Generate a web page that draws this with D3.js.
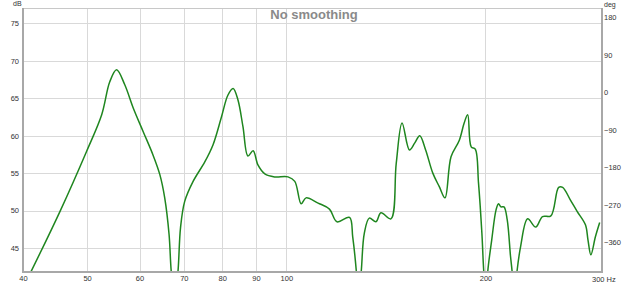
<!DOCTYPE html>
<html>
<head>
<meta charset="utf-8">
<script src="https://cdn.jsdelivr.net/npm/d3@7"></script>
<style>
  body { margin: 0; background: #fff; }
  svg { display: block; font-family: "Liberation Sans", Arial, sans-serif; }
  .tick text { fill: #333; font-size: 7.5px; }
</style>
</head>
<body>
<div id="chart"></div>
<script>
var W = 630, H = 285;
var plotL = 23, plotR = 602, plotT = 8, plotB = 272;

// frequency response (Hz, dB)
var freq = [41.0, 45.5, 49.9, 52.6, 54.1, 55.4, 57.0, 58.7, 60.8, 62.9, 64.4, 65.5, 66.5, 67.0, 67.8,
  68.6, 69.2, 70.2, 72.3, 75.3, 77.5, 79.8, 81.6, 83.1, 84.5, 86.0, 87.5, 89.1, 90.6, 92.8, 96.0,
  100.6, 103.0, 105.3, 107.1, 111.7, 116.2, 119.3, 124.6, 126.0, 127.6, 128.5, 129.8, 131.2, 133.5,
  136.6, 139.0, 143.9, 146.6, 149.6, 153.5, 156.3, 159.1, 162.4, 166.5, 170.3, 173.7, 177.4, 182.6,
  185.7, 188.0, 190.3, 193.0, 195.2, 197.5, 198.8, 200.5, 201.6, 204.4, 207.5, 209.3, 211.0, 213.3,
  215.7, 218.2, 219.4, 221.2, 223.2, 226.0, 231.6, 238.2, 243.9, 251.1, 258.0, 261.6, 268.8, 275.1,
  283.2, 285.7, 288.6, 293.2, 297.6];
var spl = [41.6, 49.9, 57.9, 62.8, 67.2, 68.8, 66.8, 63.7, 60.5, 57.4, 54.8, 51.7, 46.8, 41.9, 38.0,
  41.9, 47.7, 51.2, 53.9, 56.5, 58.8, 62.5, 65.4, 66.3, 64.8, 61.2, 57.3, 58.0, 56.1, 54.9, 54.5,
  54.5, 53.9, 50.9, 51.7, 51.0, 50.2, 48.5, 49.1, 46.5, 41.9, 38.0, 41.9, 47.0, 49.0,
  48.5, 49.7, 48.9, 56.3, 61.7, 58.1, 59.0, 60.0, 58.1, 55.0, 53.2, 51.7, 57.2, 59.4,
  61.7, 62.8, 58.5, 58.2, 53.7, 47.0, 41.9, 38.0, 41.9, 46.1, 50.1, 50.9, 50.5, 50.5,
  48.8, 43.9, 41.9, 38.0, 41.9, 45.2, 48.9, 47.8, 49.2, 49.3, 53.1, 53.1, 51.4, 49.9,
  48.1, 46.1, 44.1, 46.5, 48.4];

var freqTicks = [40, 50, 60, 70, 80, 90, 100, 200, 300];
var dbTicks = [45, 50, 55, 60, 65, 70, 75];
var degTicks = [-360, -270, -180, -90, 0, 90, 180];

var svg = d3.select("#chart").append("svg").attr("width", W).attr("height", H);

var x = d3.scaleLog().domain([40, 300]).range([plotL, plotR]);
var y = d3.scaleLinear().domain([41.8, 77.05]).range([plotB, plotT]);
var yDeg = d3.scaleLinear().domain([-432, 202.5]).range([plotB, plotT]);

// grid
svg.append("g").selectAll("line").data(dbTicks).join("line")
  .attr("x1", plotL).attr("x2", plotR)
  .attr("y1", d => Math.round(y(d)) + 0.5).attr("y2", d => Math.round(y(d)) + 0.5)
  .attr("stroke", "#d9d9d9");
svg.append("g").selectAll("line").data(freqTicks.slice(1, -1)).join("line")
  .attr("x1", d => Math.round(x(d)) + 0.5).attr("x2", d => Math.round(x(d)) + 0.5)
  .attr("y1", plotT).attr("y2", plotB)
  .attr("stroke", "#d9d9d9");

// curve
svg.append("clipPath").attr("id", "clip").append("rect")
  .attr("x", plotL).attr("y", plotT).attr("width", plotR - plotL).attr("height", plotB - plotT);

var line = d3.line()
  .x((d, i) => x(freq[i]))
  .y(d => y(d))
  .curve(d3.curveCatmullRom.alpha(0.5));

svg.append("path")
  .attr("clip-path", "url(#clip)")
  .attr("d", line(spl))
  .attr("fill", "none")
  .attr("stroke", "#1f861f")
  .attr("stroke-width", 1.5);

// frame
svg.append("line").attr("x1", plotL).attr("x2", plotR).attr("y1", plotT + 0.5).attr("y2", plotT + 0.5)
  .attr("stroke", "#c8c8c8");
svg.append("path")
  .attr("d", "M" + plotL + "," + plotT + "V" + plotB + "H" + plotR + "V" + plotT)
  .attr("fill", "none").attr("stroke", "#a8a8a8").attr("stroke-width", 2);

// axes
var ax = svg.append("g").attr("transform", "translate(0," + (plotB + 1) + ")")
  .call(d3.axisBottom(x).tickValues(freqTicks).tickSize(0).tickPadding(3)
    .tickFormat(d => d === 300 ? "" : d));
ax.select(".domain").remove();
svg.append("text").attr("x", 592).attr("y", plotB + 10)
  .attr("font-size", "7.5px").attr("fill", "#333").text("300 Hz");

var ay = svg.append("g").attr("transform", "translate(" + (plotL - 2) + ",0)")
  .call(d3.axisLeft(y).tickValues(dbTicks).tickSize(0).tickPadding(2));
ay.select(".domain").remove();

var ar = svg.append("g").attr("transform", "translate(" + (plotR + 1) + ",0)")
  .call(d3.axisRight(yDeg).tickValues(degTicks).tickSize(0).tickPadding(1));
ar.select(".domain").remove();

svg.append("text").attr("x", 13).attr("y", 6).attr("font-size", "7px").attr("fill", "#333").text("dB");
svg.append("text").attr("x", 604).attr("y", 7).attr("font-size", "7px").attr("fill", "#333").text("deg");

svg.append("text").attr("x", 314).attr("y", 19).attr("text-anchor", "middle")
  .attr("font-size", "13px").attr("font-weight", "bold").attr("fill", "#8a8a8a")
  .text("No smoothing");
</script>
</body>
</html>
